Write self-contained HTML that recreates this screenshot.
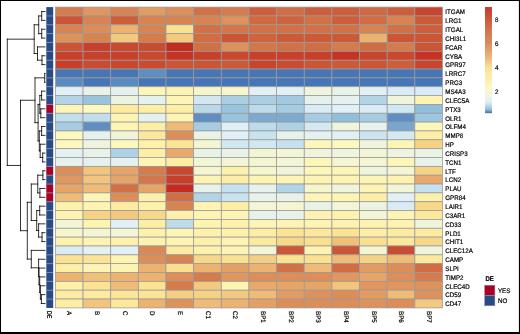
<!DOCTYPE html>
<html><head><meta charset="utf-8"><title>Heatmap</title>
<style>html,body{margin:0;padding:0;background:#fff}body{width:520px;height:334px;overflow:hidden}</style>
</head><body>
<svg width="520" height="334" viewBox="0 0 520 334" text-rendering="geometricPrecision" style="display:block;font-family:'Liberation Sans',sans-serif">
<rect x="0" y="0" width="520" height="334" fill="#fff"/>
<g stroke="#999999" stroke-width="0.75">
<rect x="55.40" y="7.10" width="27.65" height="8.85" fill="#d57b4c"/>
<rect x="83.05" y="7.10" width="27.65" height="8.85" fill="#e0965e"/>
<rect x="110.70" y="7.10" width="27.65" height="8.85" fill="#d88452"/>
<rect x="138.35" y="7.10" width="27.65" height="8.85" fill="#e29b61"/>
<rect x="166.00" y="7.10" width="27.65" height="8.85" fill="#dc8d58"/>
<rect x="193.65" y="7.10" width="27.65" height="8.85" fill="#d37146"/>
<rect x="221.30" y="7.10" width="27.65" height="8.85" fill="#d57b4c"/>
<rect x="248.95" y="7.10" width="27.65" height="8.85" fill="#ce5e3a"/>
<rect x="276.60" y="7.10" width="27.65" height="8.85" fill="#d26c43"/>
<rect x="304.25" y="7.10" width="27.65" height="8.85" fill="#ce5e3a"/>
<rect x="331.90" y="7.10" width="27.65" height="8.85" fill="#ce5e3a"/>
<rect x="359.55" y="7.10" width="27.65" height="8.85" fill="#d06840"/>
<rect x="387.20" y="7.10" width="27.65" height="8.85" fill="#ce5e3a"/>
<rect x="414.85" y="7.10" width="27.65" height="8.85" fill="#c9442c"/>
<rect x="55.40" y="15.95" width="27.65" height="8.85" fill="#cb5534"/>
<rect x="83.05" y="15.95" width="27.65" height="8.85" fill="#d88452"/>
<rect x="110.70" y="15.95" width="27.65" height="8.85" fill="#ce5e3a"/>
<rect x="138.35" y="15.95" width="27.65" height="8.85" fill="#d88452"/>
<rect x="166.00" y="15.95" width="27.65" height="8.85" fill="#d88452"/>
<rect x="193.65" y="15.95" width="27.65" height="8.85" fill="#d88452"/>
<rect x="221.30" y="15.95" width="27.65" height="8.85" fill="#de925b"/>
<rect x="248.95" y="15.95" width="27.65" height="8.85" fill="#d06840"/>
<rect x="276.60" y="15.95" width="27.65" height="8.85" fill="#cf633d"/>
<rect x="304.25" y="15.95" width="27.65" height="8.85" fill="#d37146"/>
<rect x="331.90" y="15.95" width="27.65" height="8.85" fill="#ce5e3a"/>
<rect x="359.55" y="15.95" width="27.65" height="8.85" fill="#d26c43"/>
<rect x="387.20" y="15.95" width="27.65" height="8.85" fill="#d88452"/>
<rect x="414.85" y="15.95" width="27.65" height="8.85" fill="#cc5a37"/>
<rect x="55.40" y="24.79" width="27.65" height="8.85" fill="#d88452"/>
<rect x="83.05" y="24.79" width="27.65" height="8.85" fill="#dc8d58"/>
<rect x="110.70" y="24.79" width="27.65" height="8.85" fill="#ecb270"/>
<rect x="138.35" y="24.79" width="27.65" height="8.85" fill="#d88452"/>
<rect x="166.00" y="24.79" width="27.65" height="8.85" fill="#fae190"/>
<rect x="193.65" y="24.79" width="27.65" height="8.85" fill="#d37146"/>
<rect x="221.30" y="24.79" width="27.65" height="8.85" fill="#d47649"/>
<rect x="248.95" y="24.79" width="27.65" height="8.85" fill="#d37146"/>
<rect x="276.60" y="24.79" width="27.65" height="8.85" fill="#d37146"/>
<rect x="304.25" y="24.79" width="27.65" height="8.85" fill="#d37146"/>
<rect x="331.90" y="24.79" width="27.65" height="8.85" fill="#d37146"/>
<rect x="359.55" y="24.79" width="27.65" height="8.85" fill="#d88452"/>
<rect x="387.20" y="24.79" width="27.65" height="8.85" fill="#d37146"/>
<rect x="414.85" y="24.79" width="27.65" height="8.85" fill="#ce5e3a"/>
<rect x="55.40" y="33.64" width="27.65" height="8.85" fill="#de925b"/>
<rect x="83.05" y="33.64" width="27.65" height="8.85" fill="#d88452"/>
<rect x="110.70" y="33.64" width="27.65" height="8.85" fill="#f3c97f"/>
<rect x="138.35" y="33.64" width="27.65" height="8.85" fill="#d57b4c"/>
<rect x="166.00" y="33.64" width="27.65" height="8.85" fill="#f3c97f"/>
<rect x="193.65" y="33.64" width="27.65" height="8.85" fill="#d26c43"/>
<rect x="221.30" y="33.64" width="27.65" height="8.85" fill="#cb5534"/>
<rect x="248.95" y="33.64" width="27.65" height="8.85" fill="#cf633d"/>
<rect x="276.60" y="33.64" width="27.65" height="8.85" fill="#cc5a37"/>
<rect x="304.25" y="33.64" width="27.65" height="8.85" fill="#cc5a37"/>
<rect x="331.90" y="33.64" width="27.65" height="8.85" fill="#cc5a37"/>
<rect x="359.55" y="33.64" width="27.65" height="8.85" fill="#ecb270"/>
<rect x="387.20" y="33.64" width="27.65" height="8.85" fill="#cb5534"/>
<rect x="414.85" y="33.64" width="27.65" height="8.85" fill="#cb5534"/>
<rect x="55.40" y="42.49" width="27.65" height="8.85" fill="#cb5534"/>
<rect x="83.05" y="42.49" width="27.65" height="8.85" fill="#c8402a"/>
<rect x="110.70" y="42.49" width="27.65" height="8.85" fill="#c9482e"/>
<rect x="138.35" y="42.49" width="27.65" height="8.85" fill="#ca4c30"/>
<rect x="166.00" y="42.49" width="27.65" height="8.85" fill="#c52a20"/>
<rect x="193.65" y="42.49" width="27.65" height="8.85" fill="#d37146"/>
<rect x="221.30" y="42.49" width="27.65" height="8.85" fill="#de925b"/>
<rect x="248.95" y="42.49" width="27.65" height="8.85" fill="#d47649"/>
<rect x="276.60" y="42.49" width="27.65" height="8.85" fill="#d37146"/>
<rect x="304.25" y="42.49" width="27.65" height="8.85" fill="#d26c43"/>
<rect x="331.90" y="42.49" width="27.65" height="8.85" fill="#d57b4c"/>
<rect x="359.55" y="42.49" width="27.65" height="8.85" fill="#d26c43"/>
<rect x="387.20" y="42.49" width="27.65" height="8.85" fill="#d57b4c"/>
<rect x="414.85" y="42.49" width="27.65" height="8.85" fill="#cb5534"/>
<rect x="55.40" y="51.34" width="27.65" height="8.85" fill="#c8402a"/>
<rect x="83.05" y="51.34" width="27.65" height="8.85" fill="#c8402a"/>
<rect x="110.70" y="51.34" width="27.65" height="8.85" fill="#c8402a"/>
<rect x="138.35" y="51.34" width="27.65" height="8.85" fill="#c9482e"/>
<rect x="166.00" y="51.34" width="27.65" height="8.85" fill="#c63324"/>
<rect x="193.65" y="51.34" width="27.65" height="8.85" fill="#c8402a"/>
<rect x="221.30" y="51.34" width="27.65" height="8.85" fill="#c9482e"/>
<rect x="248.95" y="51.34" width="27.65" height="8.85" fill="#c8402a"/>
<rect x="276.60" y="51.34" width="27.65" height="8.85" fill="#c8402a"/>
<rect x="304.25" y="51.34" width="27.65" height="8.85" fill="#c8402a"/>
<rect x="331.90" y="51.34" width="27.65" height="8.85" fill="#c63324"/>
<rect x="359.55" y="51.34" width="27.65" height="8.85" fill="#c9442c"/>
<rect x="387.20" y="51.34" width="27.65" height="8.85" fill="#c9482e"/>
<rect x="414.85" y="51.34" width="27.65" height="8.85" fill="#c63324"/>
<rect x="55.40" y="60.18" width="27.65" height="8.85" fill="#c8402a"/>
<rect x="83.05" y="60.18" width="27.65" height="8.85" fill="#ca4c30"/>
<rect x="110.70" y="60.18" width="27.65" height="8.85" fill="#c9482e"/>
<rect x="138.35" y="60.18" width="27.65" height="8.85" fill="#ca4c30"/>
<rect x="166.00" y="60.18" width="27.65" height="8.85" fill="#cb5534"/>
<rect x="193.65" y="60.18" width="27.65" height="8.85" fill="#cb5534"/>
<rect x="221.30" y="60.18" width="27.65" height="8.85" fill="#cc5a37"/>
<rect x="248.95" y="60.18" width="27.65" height="8.85" fill="#c9442c"/>
<rect x="276.60" y="60.18" width="27.65" height="8.85" fill="#ca4c30"/>
<rect x="304.25" y="60.18" width="27.65" height="8.85" fill="#cb5534"/>
<rect x="331.90" y="60.18" width="27.65" height="8.85" fill="#cc5a37"/>
<rect x="359.55" y="60.18" width="27.65" height="8.85" fill="#cb5534"/>
<rect x="387.20" y="60.18" width="27.65" height="8.85" fill="#ce5e3a"/>
<rect x="414.85" y="60.18" width="27.65" height="8.85" fill="#c9442c"/>
<rect x="55.40" y="69.03" width="27.65" height="8.85" fill="#4676b5"/>
<rect x="83.05" y="69.03" width="27.65" height="8.85" fill="#4676b5"/>
<rect x="110.70" y="69.03" width="27.65" height="8.85" fill="#4676b5"/>
<rect x="138.35" y="69.03" width="27.65" height="8.85" fill="#5f8ec2"/>
<rect x="166.00" y="69.03" width="27.65" height="8.85" fill="#4676b5"/>
<rect x="193.65" y="69.03" width="27.65" height="8.85" fill="#4676b5"/>
<rect x="221.30" y="69.03" width="27.65" height="8.85" fill="#4676b5"/>
<rect x="248.95" y="69.03" width="27.65" height="8.85" fill="#4676b5"/>
<rect x="276.60" y="69.03" width="27.65" height="8.85" fill="#4676b5"/>
<rect x="304.25" y="69.03" width="27.65" height="8.85" fill="#4676b5"/>
<rect x="331.90" y="69.03" width="27.65" height="8.85" fill="#4676b5"/>
<rect x="359.55" y="69.03" width="27.65" height="8.85" fill="#4676b5"/>
<rect x="387.20" y="69.03" width="27.65" height="8.85" fill="#4676b5"/>
<rect x="414.85" y="69.03" width="27.65" height="8.85" fill="#4676b5"/>
<rect x="55.40" y="77.88" width="27.65" height="8.85" fill="#5b8ac0"/>
<rect x="83.05" y="77.88" width="27.65" height="8.85" fill="#4676b5"/>
<rect x="110.70" y="77.88" width="27.65" height="8.85" fill="#5b8ac0"/>
<rect x="138.35" y="77.88" width="27.65" height="8.85" fill="#4676b5"/>
<rect x="166.00" y="77.88" width="27.65" height="8.85" fill="#4676b5"/>
<rect x="193.65" y="77.88" width="27.65" height="8.85" fill="#4676b5"/>
<rect x="221.30" y="77.88" width="27.65" height="8.85" fill="#4676b5"/>
<rect x="248.95" y="77.88" width="27.65" height="8.85" fill="#4676b5"/>
<rect x="276.60" y="77.88" width="27.65" height="8.85" fill="#4676b5"/>
<rect x="304.25" y="77.88" width="27.65" height="8.85" fill="#4676b5"/>
<rect x="331.90" y="77.88" width="27.65" height="8.85" fill="#4676b5"/>
<rect x="359.55" y="77.88" width="27.65" height="8.85" fill="#4676b5"/>
<rect x="387.20" y="77.88" width="27.65" height="8.85" fill="#4676b5"/>
<rect x="414.85" y="77.88" width="27.65" height="8.85" fill="#4676b5"/>
<rect x="55.40" y="86.72" width="27.65" height="8.85" fill="#e1f0f6"/>
<rect x="83.05" y="86.72" width="27.65" height="8.85" fill="#e9f2e6"/>
<rect x="110.70" y="86.72" width="27.65" height="8.85" fill="#e5f1ee"/>
<rect x="138.35" y="86.72" width="27.65" height="8.85" fill="#fdf6b9"/>
<rect x="166.00" y="86.72" width="27.65" height="8.85" fill="#fdf2af"/>
<rect x="193.65" y="86.72" width="27.65" height="8.85" fill="#f7f6ca"/>
<rect x="221.30" y="86.72" width="27.65" height="8.85" fill="#f7f6ca"/>
<rect x="248.95" y="86.72" width="27.65" height="8.85" fill="#e1f0f6"/>
<rect x="276.60" y="86.72" width="27.65" height="8.85" fill="#e1f0f6"/>
<rect x="304.25" y="86.72" width="27.65" height="8.85" fill="#eff4dc"/>
<rect x="331.90" y="86.72" width="27.65" height="8.85" fill="#e9f2e6"/>
<rect x="359.55" y="86.72" width="27.65" height="8.85" fill="#e1f0f6"/>
<rect x="387.20" y="86.72" width="27.65" height="8.85" fill="#d9ebf4"/>
<rect x="414.85" y="86.72" width="27.65" height="8.85" fill="#d9ebf4"/>
<rect x="55.40" y="95.57" width="27.65" height="8.85" fill="#b1d4e7"/>
<rect x="83.05" y="95.57" width="27.65" height="8.85" fill="#99c4de"/>
<rect x="110.70" y="95.57" width="27.65" height="8.85" fill="#ecf3e1"/>
<rect x="138.35" y="95.57" width="27.65" height="8.85" fill="#e4f1f1"/>
<rect x="166.00" y="95.57" width="27.65" height="8.85" fill="#fdf5b6"/>
<rect x="193.65" y="95.57" width="27.65" height="8.85" fill="#d1e7f1"/>
<rect x="221.30" y="95.57" width="27.65" height="8.85" fill="#a9cfe4"/>
<rect x="248.95" y="95.57" width="27.65" height="8.85" fill="#a9cfe4"/>
<rect x="276.60" y="95.57" width="27.65" height="8.85" fill="#a1c9e1"/>
<rect x="304.25" y="95.57" width="27.65" height="8.85" fill="#e5f1ee"/>
<rect x="331.90" y="95.57" width="27.65" height="8.85" fill="#e5f1ee"/>
<rect x="359.55" y="95.57" width="27.65" height="8.85" fill="#b1d4e7"/>
<rect x="387.20" y="95.57" width="27.65" height="8.85" fill="#eff4dc"/>
<rect x="414.85" y="95.57" width="27.65" height="8.85" fill="#fdf4b4"/>
<rect x="55.40" y="104.42" width="27.65" height="8.85" fill="#fdf5b6"/>
<rect x="83.05" y="104.42" width="27.65" height="8.85" fill="#fdf8be"/>
<rect x="110.70" y="104.42" width="27.65" height="8.85" fill="#fcea9e"/>
<rect x="138.35" y="104.42" width="27.65" height="8.85" fill="#fdeea5"/>
<rect x="166.00" y="104.42" width="27.65" height="8.85" fill="#fdeea5"/>
<rect x="193.65" y="104.42" width="27.65" height="8.85" fill="#b9d9ea"/>
<rect x="221.30" y="104.42" width="27.65" height="8.85" fill="#99c4de"/>
<rect x="248.95" y="104.42" width="27.65" height="8.85" fill="#bddbeb"/>
<rect x="276.60" y="104.42" width="27.65" height="8.85" fill="#a5cce2"/>
<rect x="304.25" y="104.42" width="27.65" height="8.85" fill="#d9ebf4"/>
<rect x="331.90" y="104.42" width="27.65" height="8.85" fill="#e1f0f6"/>
<rect x="359.55" y="104.42" width="27.65" height="8.85" fill="#d9ebf4"/>
<rect x="387.20" y="104.42" width="27.65" height="8.85" fill="#d1e7f1"/>
<rect x="414.85" y="104.42" width="27.65" height="8.85" fill="#91bfdb"/>
<rect x="55.40" y="113.26" width="27.65" height="8.85" fill="#c1deec"/>
<rect x="83.05" y="113.26" width="27.65" height="8.85" fill="#c1deec"/>
<rect x="110.70" y="113.26" width="27.65" height="8.85" fill="#fdf4b4"/>
<rect x="138.35" y="113.26" width="27.65" height="8.85" fill="#e4f1f1"/>
<rect x="166.00" y="113.26" width="27.65" height="8.85" fill="#fdf3b2"/>
<rect x="193.65" y="113.26" width="27.65" height="8.85" fill="#5f8ec2"/>
<rect x="221.30" y="113.26" width="27.65" height="8.85" fill="#99c4de"/>
<rect x="248.95" y="113.26" width="27.65" height="8.85" fill="#7caad0"/>
<rect x="276.60" y="113.26" width="27.65" height="8.85" fill="#7caad0"/>
<rect x="304.25" y="113.26" width="27.65" height="8.85" fill="#a5cce2"/>
<rect x="331.90" y="113.26" width="27.65" height="8.85" fill="#91bfdb"/>
<rect x="359.55" y="113.26" width="27.65" height="8.85" fill="#a5cce2"/>
<rect x="387.20" y="113.26" width="27.65" height="8.85" fill="#5f8ec2"/>
<rect x="414.85" y="113.26" width="27.65" height="8.85" fill="#9dc7e0"/>
<rect x="55.40" y="122.11" width="27.65" height="8.85" fill="#a5cce2"/>
<rect x="83.05" y="122.11" width="27.65" height="8.85" fill="#5f8ec2"/>
<rect x="110.70" y="122.11" width="27.65" height="8.85" fill="#fdf4b4"/>
<rect x="138.35" y="122.11" width="27.65" height="8.85" fill="#fdeea5"/>
<rect x="166.00" y="122.11" width="27.65" height="8.85" fill="#efbb76"/>
<rect x="193.65" y="122.11" width="27.65" height="8.85" fill="#a5cce2"/>
<rect x="221.30" y="122.11" width="27.65" height="8.85" fill="#e1f0f6"/>
<rect x="248.95" y="122.11" width="27.65" height="8.85" fill="#bddbeb"/>
<rect x="276.60" y="122.11" width="27.65" height="8.85" fill="#add1e6"/>
<rect x="304.25" y="122.11" width="27.65" height="8.85" fill="#d5e9f2"/>
<rect x="331.90" y="122.11" width="27.65" height="8.85" fill="#eff4dc"/>
<rect x="359.55" y="122.11" width="27.65" height="8.85" fill="#e7f2ec"/>
<rect x="387.20" y="122.11" width="27.65" height="8.85" fill="#78a6ce"/>
<rect x="414.85" y="122.11" width="27.65" height="8.85" fill="#fdf6b9"/>
<rect x="55.40" y="130.96" width="27.65" height="8.85" fill="#fdf8be"/>
<rect x="83.05" y="130.96" width="27.65" height="8.85" fill="#e5f1ee"/>
<rect x="110.70" y="130.96" width="27.65" height="8.85" fill="#f0f4d9"/>
<rect x="138.35" y="130.96" width="27.65" height="8.85" fill="#fce79a"/>
<rect x="166.00" y="130.96" width="27.65" height="8.85" fill="#dc8d58"/>
<rect x="193.65" y="130.96" width="27.65" height="8.85" fill="#ebf3e4"/>
<rect x="221.30" y="130.96" width="27.65" height="8.85" fill="#e1f0f6"/>
<rect x="248.95" y="130.96" width="27.65" height="8.85" fill="#c9e2ef"/>
<rect x="276.60" y="130.96" width="27.65" height="8.85" fill="#e7f2ec"/>
<rect x="304.25" y="130.96" width="27.65" height="8.85" fill="#e5f1ee"/>
<rect x="331.90" y="130.96" width="27.65" height="8.85" fill="#e2f0f3"/>
<rect x="359.55" y="130.96" width="27.65" height="8.85" fill="#cde4f0"/>
<rect x="387.20" y="130.96" width="27.65" height="8.85" fill="#d5e9f2"/>
<rect x="414.85" y="130.96" width="27.65" height="8.85" fill="#fdeea5"/>
<rect x="55.40" y="139.80" width="27.65" height="8.85" fill="#fdf8be"/>
<rect x="83.05" y="139.80" width="27.65" height="8.85" fill="#eef4df"/>
<rect x="110.70" y="139.80" width="27.65" height="8.85" fill="#fdf8be"/>
<rect x="138.35" y="139.80" width="27.65" height="8.85" fill="#fdf1ac"/>
<rect x="166.00" y="139.80" width="27.65" height="8.85" fill="#fbe495"/>
<rect x="193.65" y="139.80" width="27.65" height="8.85" fill="#f3f5d3"/>
<rect x="221.30" y="139.80" width="27.65" height="8.85" fill="#d1e7f1"/>
<rect x="248.95" y="139.80" width="27.65" height="8.85" fill="#d1e7f1"/>
<rect x="276.60" y="139.80" width="27.65" height="8.85" fill="#c5e0ee"/>
<rect x="304.25" y="139.80" width="27.65" height="8.85" fill="#fdf6b9"/>
<rect x="331.90" y="139.80" width="27.65" height="8.85" fill="#fdf8be"/>
<rect x="359.55" y="139.80" width="27.65" height="8.85" fill="#eff4dc"/>
<rect x="387.20" y="139.80" width="27.65" height="8.85" fill="#fdf5b6"/>
<rect x="414.85" y="139.80" width="27.65" height="8.85" fill="#f6d285"/>
<rect x="55.40" y="148.65" width="27.65" height="8.85" fill="#e4f1f1"/>
<rect x="83.05" y="148.65" width="27.65" height="8.85" fill="#e8f2e9"/>
<rect x="110.70" y="148.65" width="27.65" height="8.85" fill="#add1e6"/>
<rect x="138.35" y="148.65" width="27.65" height="8.85" fill="#fdeea5"/>
<rect x="166.00" y="148.65" width="27.65" height="8.85" fill="#e8a96a"/>
<rect x="193.65" y="148.65" width="27.65" height="8.85" fill="#e9f2e6"/>
<rect x="221.30" y="148.65" width="27.65" height="8.85" fill="#e9f2e6"/>
<rect x="248.95" y="148.65" width="27.65" height="8.85" fill="#f3f5d3"/>
<rect x="276.60" y="148.65" width="27.65" height="8.85" fill="#f2f5d6"/>
<rect x="304.25" y="148.65" width="27.65" height="8.85" fill="#eff4dc"/>
<rect x="331.90" y="148.65" width="27.65" height="8.85" fill="#eff4dc"/>
<rect x="359.55" y="148.65" width="27.65" height="8.85" fill="#f2f5d6"/>
<rect x="387.20" y="148.65" width="27.65" height="8.85" fill="#eef4df"/>
<rect x="414.85" y="148.65" width="27.65" height="8.85" fill="#ebf3e4"/>
<rect x="55.40" y="157.50" width="27.65" height="8.85" fill="#e7f2ec"/>
<rect x="83.05" y="157.50" width="27.65" height="8.85" fill="#e5f1ee"/>
<rect x="110.70" y="157.50" width="27.65" height="8.85" fill="#e5f1ee"/>
<rect x="138.35" y="157.50" width="27.65" height="8.85" fill="#fdf5b6"/>
<rect x="166.00" y="157.50" width="27.65" height="8.85" fill="#fdeea5"/>
<rect x="193.65" y="157.50" width="27.65" height="8.85" fill="#f2f5d6"/>
<rect x="221.30" y="157.50" width="27.65" height="8.85" fill="#f2f5d6"/>
<rect x="248.95" y="157.50" width="27.65" height="8.85" fill="#f3f5d3"/>
<rect x="276.60" y="157.50" width="27.65" height="8.85" fill="#f2f5d6"/>
<rect x="304.25" y="157.50" width="27.65" height="8.85" fill="#fdf6b9"/>
<rect x="331.90" y="157.50" width="27.65" height="8.85" fill="#f3f5d3"/>
<rect x="359.55" y="157.50" width="27.65" height="8.85" fill="#f3f5d3"/>
<rect x="387.20" y="157.50" width="27.65" height="8.85" fill="#fdf6b9"/>
<rect x="414.85" y="157.50" width="27.65" height="8.85" fill="#e8f2e9"/>
<rect x="55.40" y="166.35" width="27.65" height="8.85" fill="#dc8d58"/>
<rect x="83.05" y="166.35" width="27.65" height="8.85" fill="#f2c47c"/>
<rect x="110.70" y="166.35" width="27.65" height="8.85" fill="#e6a467"/>
<rect x="138.35" y="166.35" width="27.65" height="8.85" fill="#d57b4c"/>
<rect x="166.00" y="166.35" width="27.65" height="8.85" fill="#c9482e"/>
<rect x="193.65" y="166.35" width="27.65" height="8.85" fill="#f5f6d0"/>
<rect x="221.30" y="166.35" width="27.65" height="8.85" fill="#fdf0aa"/>
<rect x="248.95" y="166.35" width="27.65" height="8.85" fill="#f6f6cd"/>
<rect x="276.60" y="166.35" width="27.65" height="8.85" fill="#f0f4d9"/>
<rect x="304.25" y="166.35" width="27.65" height="8.85" fill="#fdf6b9"/>
<rect x="331.90" y="166.35" width="27.65" height="8.85" fill="#fdf5b6"/>
<rect x="359.55" y="166.35" width="27.65" height="8.85" fill="#eff4dc"/>
<rect x="387.20" y="166.35" width="27.65" height="8.85" fill="#f3f5d3"/>
<rect x="414.85" y="166.35" width="27.65" height="8.85" fill="#f6d285"/>
<rect x="55.40" y="175.19" width="27.65" height="8.85" fill="#e0965e"/>
<rect x="83.05" y="175.19" width="27.65" height="8.85" fill="#f2c47c"/>
<rect x="110.70" y="175.19" width="27.65" height="8.85" fill="#e6a467"/>
<rect x="138.35" y="175.19" width="27.65" height="8.85" fill="#d47649"/>
<rect x="166.00" y="175.19" width="27.65" height="8.85" fill="#c8402a"/>
<rect x="193.65" y="175.19" width="27.65" height="8.85" fill="#fdf3b2"/>
<rect x="221.30" y="175.19" width="27.65" height="8.85" fill="#fdeea5"/>
<rect x="248.95" y="175.19" width="27.65" height="8.85" fill="#fdf4b4"/>
<rect x="276.60" y="175.19" width="27.65" height="8.85" fill="#fdf5b6"/>
<rect x="304.25" y="175.19" width="27.65" height="8.85" fill="#fdf4b4"/>
<rect x="331.90" y="175.19" width="27.65" height="8.85" fill="#fdf3b2"/>
<rect x="359.55" y="175.19" width="27.65" height="8.85" fill="#fdf5b6"/>
<rect x="387.20" y="175.19" width="27.65" height="8.85" fill="#fdf2af"/>
<rect x="414.85" y="175.19" width="27.65" height="8.85" fill="#e8a96a"/>
<rect x="55.40" y="184.04" width="27.65" height="8.85" fill="#e6a467"/>
<rect x="83.05" y="184.04" width="27.65" height="8.85" fill="#efbb76"/>
<rect x="110.70" y="184.04" width="27.65" height="8.85" fill="#d37146"/>
<rect x="138.35" y="184.04" width="27.65" height="8.85" fill="#e6a467"/>
<rect x="166.00" y="184.04" width="27.65" height="8.85" fill="#c52a20"/>
<rect x="193.65" y="184.04" width="27.65" height="8.85" fill="#e8f2e9"/>
<rect x="221.30" y="184.04" width="27.65" height="8.85" fill="#c5e0ee"/>
<rect x="248.95" y="184.04" width="27.65" height="8.85" fill="#e7f2ec"/>
<rect x="276.60" y="184.04" width="27.65" height="8.85" fill="#b1d4e7"/>
<rect x="304.25" y="184.04" width="27.65" height="8.85" fill="#f6f6cd"/>
<rect x="331.90" y="184.04" width="27.65" height="8.85" fill="#eff4dc"/>
<rect x="359.55" y="184.04" width="27.65" height="8.85" fill="#fdf3b2"/>
<rect x="387.20" y="184.04" width="27.65" height="8.85" fill="#f2f5d6"/>
<rect x="414.85" y="184.04" width="27.65" height="8.85" fill="#c5e0ee"/>
<rect x="55.40" y="192.89" width="27.65" height="8.85" fill="#efbb76"/>
<rect x="83.05" y="192.89" width="27.65" height="8.85" fill="#fdf5b6"/>
<rect x="110.70" y="192.89" width="27.65" height="8.85" fill="#dc8d58"/>
<rect x="138.35" y="192.89" width="27.65" height="8.85" fill="#fdf0aa"/>
<rect x="166.00" y="192.89" width="27.65" height="8.85" fill="#d26c43"/>
<rect x="193.65" y="192.89" width="27.65" height="8.85" fill="#b1d4e7"/>
<rect x="221.30" y="192.89" width="27.65" height="8.85" fill="#c9e2ef"/>
<rect x="248.95" y="192.89" width="27.65" height="8.85" fill="#e8f2e9"/>
<rect x="276.60" y="192.89" width="27.65" height="8.85" fill="#e8f2e9"/>
<rect x="304.25" y="192.89" width="27.65" height="8.85" fill="#fdf5b6"/>
<rect x="331.90" y="192.89" width="27.65" height="8.85" fill="#fdf4b4"/>
<rect x="359.55" y="192.89" width="27.65" height="8.85" fill="#fdeea5"/>
<rect x="387.20" y="192.89" width="27.65" height="8.85" fill="#e1f0f6"/>
<rect x="414.85" y="192.89" width="27.65" height="8.85" fill="#fdf0aa"/>
<rect x="55.40" y="201.73" width="27.65" height="8.85" fill="#fdf1ac"/>
<rect x="83.05" y="201.73" width="27.65" height="8.85" fill="#fdf3b2"/>
<rect x="110.70" y="201.73" width="27.65" height="8.85" fill="#fceba0"/>
<rect x="138.35" y="201.73" width="27.65" height="8.85" fill="#fdf1ac"/>
<rect x="166.00" y="201.73" width="27.65" height="8.85" fill="#d88452"/>
<rect x="193.65" y="201.73" width="27.65" height="8.85" fill="#fdf4b4"/>
<rect x="221.30" y="201.73" width="27.65" height="8.85" fill="#fdeea5"/>
<rect x="248.95" y="201.73" width="27.65" height="8.85" fill="#f2f5d6"/>
<rect x="276.60" y="201.73" width="27.65" height="8.85" fill="#f3f5d3"/>
<rect x="304.25" y="201.73" width="27.65" height="8.85" fill="#e9f2e6"/>
<rect x="331.90" y="201.73" width="27.65" height="8.85" fill="#f2f5d6"/>
<rect x="359.55" y="201.73" width="27.65" height="8.85" fill="#ecf3e1"/>
<rect x="387.20" y="201.73" width="27.65" height="8.85" fill="#d9ebf4"/>
<rect x="414.85" y="201.73" width="27.65" height="8.85" fill="#f7d788"/>
<rect x="55.40" y="210.58" width="27.65" height="8.85" fill="#fdf2af"/>
<rect x="83.05" y="210.58" width="27.65" height="8.85" fill="#f6d285"/>
<rect x="110.70" y="210.58" width="27.65" height="8.85" fill="#f3c97f"/>
<rect x="138.35" y="210.58" width="27.65" height="8.85" fill="#f7d788"/>
<rect x="166.00" y="210.58" width="27.65" height="8.85" fill="#fdf0aa"/>
<rect x="193.65" y="210.58" width="27.65" height="8.85" fill="#fdf4b4"/>
<rect x="221.30" y="210.58" width="27.65" height="8.85" fill="#fdf4b4"/>
<rect x="248.95" y="210.58" width="27.65" height="8.85" fill="#e7f2ec"/>
<rect x="276.60" y="210.58" width="27.65" height="8.85" fill="#e8f2e9"/>
<rect x="304.25" y="210.58" width="27.65" height="8.85" fill="#fdf2af"/>
<rect x="331.90" y="210.58" width="27.65" height="8.85" fill="#fdf1ac"/>
<rect x="359.55" y="210.58" width="27.65" height="8.85" fill="#f2f5d6"/>
<rect x="387.20" y="210.58" width="27.65" height="8.85" fill="#fdf3b2"/>
<rect x="414.85" y="210.58" width="27.65" height="8.85" fill="#fce89c"/>
<rect x="55.40" y="219.43" width="27.65" height="8.85" fill="#f2f5d6"/>
<rect x="83.05" y="219.43" width="27.65" height="8.85" fill="#fdf4b4"/>
<rect x="110.70" y="219.43" width="27.65" height="8.85" fill="#e1f0f6"/>
<rect x="138.35" y="219.43" width="27.65" height="8.85" fill="#fdeea5"/>
<rect x="166.00" y="219.43" width="27.65" height="8.85" fill="#bddbeb"/>
<rect x="193.65" y="219.43" width="27.65" height="8.85" fill="#fdf3b2"/>
<rect x="221.30" y="219.43" width="27.65" height="8.85" fill="#fdf1ac"/>
<rect x="248.95" y="219.43" width="27.65" height="8.85" fill="#fdf5b6"/>
<rect x="276.60" y="219.43" width="27.65" height="8.85" fill="#fdf3b2"/>
<rect x="304.25" y="219.43" width="27.65" height="8.85" fill="#fdf3b2"/>
<rect x="331.90" y="219.43" width="27.65" height="8.85" fill="#fdf2af"/>
<rect x="359.55" y="219.43" width="27.65" height="8.85" fill="#fdf2af"/>
<rect x="387.20" y="219.43" width="27.65" height="8.85" fill="#fdf2af"/>
<rect x="414.85" y="219.43" width="27.65" height="8.85" fill="#eff4dc"/>
<rect x="55.40" y="228.27" width="27.65" height="8.85" fill="#f6f6cd"/>
<rect x="83.05" y="228.27" width="27.65" height="8.85" fill="#f3f5d3"/>
<rect x="110.70" y="228.27" width="27.65" height="8.85" fill="#f2f5d6"/>
<rect x="138.35" y="228.27" width="27.65" height="8.85" fill="#fdf1ac"/>
<rect x="166.00" y="228.27" width="27.65" height="8.85" fill="#fdf5b6"/>
<rect x="193.65" y="228.27" width="27.65" height="8.85" fill="#fdf1ac"/>
<rect x="221.30" y="228.27" width="27.65" height="8.85" fill="#fdf1ac"/>
<rect x="248.95" y="228.27" width="27.65" height="8.85" fill="#fdeea5"/>
<rect x="276.60" y="228.27" width="27.65" height="8.85" fill="#fbe393"/>
<rect x="304.25" y="228.27" width="27.65" height="8.85" fill="#fce79a"/>
<rect x="331.90" y="228.27" width="27.65" height="8.85" fill="#fbe393"/>
<rect x="359.55" y="228.27" width="27.65" height="8.85" fill="#fdeea5"/>
<rect x="387.20" y="228.27" width="27.65" height="8.85" fill="#fceba0"/>
<rect x="414.85" y="228.27" width="27.65" height="8.85" fill="#fceba0"/>
<rect x="55.40" y="237.12" width="27.65" height="8.85" fill="#fdf0aa"/>
<rect x="83.05" y="237.12" width="27.65" height="8.85" fill="#fdf4b4"/>
<rect x="110.70" y="237.12" width="27.65" height="8.85" fill="#fdf0aa"/>
<rect x="138.35" y="237.12" width="27.65" height="8.85" fill="#fdf2af"/>
<rect x="166.00" y="237.12" width="27.65" height="8.85" fill="#fdf3b2"/>
<rect x="193.65" y="237.12" width="27.65" height="8.85" fill="#fdf0aa"/>
<rect x="221.30" y="237.12" width="27.65" height="8.85" fill="#fdf2af"/>
<rect x="248.95" y="237.12" width="27.65" height="8.85" fill="#fcea9e"/>
<rect x="276.60" y="237.12" width="27.65" height="8.85" fill="#f7d788"/>
<rect x="304.25" y="237.12" width="27.65" height="8.85" fill="#fae08e"/>
<rect x="331.90" y="237.12" width="27.65" height="8.85" fill="#f0c079"/>
<rect x="359.55" y="237.12" width="27.65" height="8.85" fill="#fae08e"/>
<rect x="387.20" y="237.12" width="27.65" height="8.85" fill="#fce79a"/>
<rect x="414.85" y="237.12" width="27.65" height="8.85" fill="#f7d788"/>
<rect x="55.40" y="245.97" width="27.65" height="8.85" fill="#d9ebf4"/>
<rect x="83.05" y="245.97" width="27.65" height="8.85" fill="#e4f1f1"/>
<rect x="110.70" y="245.97" width="27.65" height="8.85" fill="#e1f0f6"/>
<rect x="138.35" y="245.97" width="27.65" height="8.85" fill="#da8955"/>
<rect x="166.00" y="245.97" width="27.65" height="8.85" fill="#fceba0"/>
<rect x="193.65" y="245.97" width="27.65" height="8.85" fill="#fdf1ac"/>
<rect x="221.30" y="245.97" width="27.65" height="8.85" fill="#fdf3b2"/>
<rect x="248.95" y="245.97" width="27.65" height="8.85" fill="#f2f5d6"/>
<rect x="276.60" y="245.97" width="27.65" height="8.85" fill="#cb5534"/>
<rect x="304.25" y="245.97" width="27.65" height="8.85" fill="#fdf2af"/>
<rect x="331.90" y="245.97" width="27.65" height="8.85" fill="#cb5534"/>
<rect x="359.55" y="245.97" width="27.65" height="8.85" fill="#f3f5d3"/>
<rect x="387.20" y="245.97" width="27.65" height="8.85" fill="#ca4c30"/>
<rect x="414.85" y="245.97" width="27.65" height="8.85" fill="#eff4dc"/>
<rect x="55.40" y="254.82" width="27.65" height="8.85" fill="#fbe393"/>
<rect x="83.05" y="254.82" width="27.65" height="8.85" fill="#fbe495"/>
<rect x="110.70" y="254.82" width="27.65" height="8.85" fill="#fdf3b2"/>
<rect x="138.35" y="254.82" width="27.65" height="8.85" fill="#dc8d58"/>
<rect x="166.00" y="254.82" width="27.65" height="8.85" fill="#d88452"/>
<rect x="193.65" y="254.82" width="27.65" height="8.85" fill="#f7d788"/>
<rect x="221.30" y="254.82" width="27.65" height="8.85" fill="#fae190"/>
<rect x="248.95" y="254.82" width="27.65" height="8.85" fill="#f4ce82"/>
<rect x="276.60" y="254.82" width="27.65" height="8.85" fill="#fae190"/>
<rect x="304.25" y="254.82" width="27.65" height="8.85" fill="#fae190"/>
<rect x="331.90" y="254.82" width="27.65" height="8.85" fill="#efbb76"/>
<rect x="359.55" y="254.82" width="27.65" height="8.85" fill="#f6d285"/>
<rect x="387.20" y="254.82" width="27.65" height="8.85" fill="#efbb76"/>
<rect x="414.85" y="254.82" width="27.65" height="8.85" fill="#fce79a"/>
<rect x="55.40" y="263.66" width="27.65" height="8.85" fill="#fdeea5"/>
<rect x="83.05" y="263.66" width="27.65" height="8.85" fill="#fdf3b2"/>
<rect x="110.70" y="263.66" width="27.65" height="8.85" fill="#fdf4b4"/>
<rect x="138.35" y="263.66" width="27.65" height="8.85" fill="#ecb270"/>
<rect x="166.00" y="263.66" width="27.65" height="8.85" fill="#fae08e"/>
<rect x="193.65" y="263.66" width="27.65" height="8.85" fill="#ecb270"/>
<rect x="221.30" y="263.66" width="27.65" height="8.85" fill="#e4a064"/>
<rect x="248.95" y="263.66" width="27.65" height="8.85" fill="#ecb270"/>
<rect x="276.60" y="263.66" width="27.65" height="8.85" fill="#d37146"/>
<rect x="304.25" y="263.66" width="27.65" height="8.85" fill="#efbb76"/>
<rect x="331.90" y="263.66" width="27.65" height="8.85" fill="#d26c43"/>
<rect x="359.55" y="263.66" width="27.65" height="8.85" fill="#e29b61"/>
<rect x="387.20" y="263.66" width="27.65" height="8.85" fill="#dc8d58"/>
<rect x="414.85" y="263.66" width="27.65" height="8.85" fill="#d26c43"/>
<rect x="55.40" y="272.51" width="27.65" height="8.85" fill="#ecb270"/>
<rect x="83.05" y="272.51" width="27.65" height="8.85" fill="#f0c079"/>
<rect x="110.70" y="272.51" width="27.65" height="8.85" fill="#ecb270"/>
<rect x="138.35" y="272.51" width="27.65" height="8.85" fill="#ecb270"/>
<rect x="166.00" y="272.51" width="27.65" height="8.85" fill="#dc8d58"/>
<rect x="193.65" y="272.51" width="27.65" height="8.85" fill="#d57b4c"/>
<rect x="221.30" y="272.51" width="27.65" height="8.85" fill="#e0965e"/>
<rect x="248.95" y="272.51" width="27.65" height="8.85" fill="#dc8d58"/>
<rect x="276.60" y="272.51" width="27.65" height="8.85" fill="#dc8d58"/>
<rect x="304.25" y="272.51" width="27.65" height="8.85" fill="#dc8d58"/>
<rect x="331.90" y="272.51" width="27.65" height="8.85" fill="#e0965e"/>
<rect x="359.55" y="272.51" width="27.65" height="8.85" fill="#e6a467"/>
<rect x="387.20" y="272.51" width="27.65" height="8.85" fill="#dc8d58"/>
<rect x="414.85" y="272.51" width="27.65" height="8.85" fill="#d57b4c"/>
<rect x="55.40" y="281.36" width="27.65" height="8.85" fill="#fdf0aa"/>
<rect x="83.05" y="281.36" width="27.65" height="8.85" fill="#fbe393"/>
<rect x="110.70" y="281.36" width="27.65" height="8.85" fill="#efbb76"/>
<rect x="138.35" y="281.36" width="27.65" height="8.85" fill="#fbe393"/>
<rect x="166.00" y="281.36" width="27.65" height="8.85" fill="#d57b4c"/>
<rect x="193.65" y="281.36" width="27.65" height="8.85" fill="#f3c97f"/>
<rect x="221.30" y="281.36" width="27.65" height="8.85" fill="#fdf4b4"/>
<rect x="248.95" y="281.36" width="27.65" height="8.85" fill="#e8a96a"/>
<rect x="276.60" y="281.36" width="27.65" height="8.85" fill="#e6a467"/>
<rect x="304.25" y="281.36" width="27.65" height="8.85" fill="#e6a467"/>
<rect x="331.90" y="281.36" width="27.65" height="8.85" fill="#f2c47c"/>
<rect x="359.55" y="281.36" width="27.65" height="8.85" fill="#e0965e"/>
<rect x="387.20" y="281.36" width="27.65" height="8.85" fill="#e0965e"/>
<rect x="414.85" y="281.36" width="27.65" height="8.85" fill="#de925b"/>
<rect x="55.40" y="290.20" width="27.65" height="8.85" fill="#fceba0"/>
<rect x="83.05" y="290.20" width="27.65" height="8.85" fill="#fceba0"/>
<rect x="110.70" y="290.20" width="27.65" height="8.85" fill="#fbe697"/>
<rect x="138.35" y="290.20" width="27.65" height="8.85" fill="#fbe495"/>
<rect x="166.00" y="290.20" width="27.65" height="8.85" fill="#f4ce82"/>
<rect x="193.65" y="290.20" width="27.65" height="8.85" fill="#f6d285"/>
<rect x="221.30" y="290.20" width="27.65" height="8.85" fill="#f3c97f"/>
<rect x="248.95" y="290.20" width="27.65" height="8.85" fill="#efbb76"/>
<rect x="276.60" y="290.20" width="27.65" height="8.85" fill="#e29b61"/>
<rect x="304.25" y="290.20" width="27.65" height="8.85" fill="#de925b"/>
<rect x="331.90" y="290.20" width="27.65" height="8.85" fill="#dc8d58"/>
<rect x="359.55" y="290.20" width="27.65" height="8.85" fill="#e29b61"/>
<rect x="387.20" y="290.20" width="27.65" height="8.85" fill="#efbb76"/>
<rect x="414.85" y="290.20" width="27.65" height="8.85" fill="#de925b"/>
<rect x="55.40" y="299.05" width="27.65" height="8.85" fill="#fdeea5"/>
<rect x="83.05" y="299.05" width="27.65" height="8.85" fill="#f2c47c"/>
<rect x="110.70" y="299.05" width="27.65" height="8.85" fill="#fce79a"/>
<rect x="138.35" y="299.05" width="27.65" height="8.85" fill="#ecb270"/>
<rect x="166.00" y="299.05" width="27.65" height="8.85" fill="#de925b"/>
<rect x="193.65" y="299.05" width="27.65" height="8.85" fill="#efbb76"/>
<rect x="221.30" y="299.05" width="27.65" height="8.85" fill="#ecb270"/>
<rect x="248.95" y="299.05" width="27.65" height="8.85" fill="#e4a064"/>
<rect x="276.60" y="299.05" width="27.65" height="8.85" fill="#dc8d58"/>
<rect x="304.25" y="299.05" width="27.65" height="8.85" fill="#dc8d58"/>
<rect x="331.90" y="299.05" width="27.65" height="8.85" fill="#dc8d58"/>
<rect x="359.55" y="299.05" width="27.65" height="8.85" fill="#de925b"/>
<rect x="387.20" y="299.05" width="27.65" height="8.85" fill="#dc8d58"/>
<rect x="414.85" y="299.05" width="27.65" height="8.85" fill="#f3c97f"/>
</g>
<g>
<rect x="46.30" y="7.10" width="6.90" height="8.90" fill="#284b87"/>
<rect x="46.30" y="15.95" width="6.90" height="8.90" fill="#284b87"/>
<rect x="46.30" y="24.79" width="6.90" height="8.90" fill="#284b87"/>
<rect x="46.30" y="33.64" width="6.90" height="8.90" fill="#284b87"/>
<rect x="46.30" y="42.49" width="6.90" height="8.90" fill="#284b87"/>
<rect x="46.30" y="51.34" width="6.90" height="8.90" fill="#284b87"/>
<rect x="46.30" y="60.18" width="6.90" height="8.90" fill="#284b87"/>
<rect x="46.30" y="69.03" width="6.90" height="8.90" fill="#284b87"/>
<rect x="46.30" y="77.88" width="6.90" height="8.90" fill="#284b87"/>
<rect x="46.30" y="86.72" width="6.90" height="8.90" fill="#284b87"/>
<rect x="46.30" y="95.57" width="6.90" height="8.90" fill="#284b87"/>
<rect x="46.30" y="104.42" width="6.90" height="8.90" fill="#aa0028"/>
<rect x="46.30" y="113.26" width="6.90" height="8.90" fill="#284b87"/>
<rect x="46.30" y="122.11" width="6.90" height="8.90" fill="#284b87"/>
<rect x="46.30" y="130.96" width="6.90" height="8.90" fill="#284b87"/>
<rect x="46.30" y="139.80" width="6.90" height="8.90" fill="#284b87"/>
<rect x="46.30" y="148.65" width="6.90" height="8.90" fill="#284b87"/>
<rect x="46.30" y="157.50" width="6.90" height="8.90" fill="#284b87"/>
<rect x="46.30" y="166.35" width="6.90" height="8.90" fill="#aa0028"/>
<rect x="46.30" y="175.19" width="6.90" height="8.90" fill="#284b87"/>
<rect x="46.30" y="184.04" width="6.90" height="8.90" fill="#aa0028"/>
<rect x="46.30" y="192.89" width="6.90" height="8.90" fill="#aa0028"/>
<rect x="46.30" y="201.73" width="6.90" height="8.90" fill="#284b87"/>
<rect x="46.30" y="210.58" width="6.90" height="8.90" fill="#284b87"/>
<rect x="46.30" y="219.43" width="6.90" height="8.90" fill="#284b87"/>
<rect x="46.30" y="228.27" width="6.90" height="8.90" fill="#284b87"/>
<rect x="46.30" y="237.12" width="6.90" height="8.90" fill="#284b87"/>
<rect x="46.30" y="245.97" width="6.90" height="8.90" fill="#284b87"/>
<rect x="46.30" y="254.82" width="6.90" height="8.90" fill="#284b87"/>
<rect x="46.30" y="263.66" width="6.90" height="8.90" fill="#284b87"/>
<rect x="46.30" y="272.51" width="6.90" height="8.90" fill="#284b87"/>
<rect x="46.30" y="281.36" width="6.90" height="8.90" fill="#284b87"/>
<rect x="46.30" y="290.20" width="6.90" height="8.90" fill="#284b87"/>
<rect x="46.30" y="299.05" width="6.90" height="8.90" fill="#284b87"/>
</g>
<path d="M46.30 15.95H53.20M46.30 24.79H53.20M46.30 33.64H53.20M46.30 42.49H53.20M46.30 51.34H53.20M46.30 60.18H53.20M46.30 69.03H53.20M46.30 77.88H53.20M46.30 86.72H53.20M46.30 95.57H53.20M46.30 104.42H53.20M46.30 113.26H53.20M46.30 122.11H53.20M46.30 130.96H53.20M46.30 139.80H53.20M46.30 148.65H53.20M46.30 157.50H53.20M46.30 166.35H53.20M46.30 175.19H53.20M46.30 184.04H53.20M46.30 192.89H53.20M46.30 201.73H53.20M46.30 210.58H53.20M46.30 219.43H53.20M46.30 228.27H53.20M46.30 237.12H53.20M46.30 245.97H53.20M46.30 254.82H53.20M46.30 263.66H53.20M46.30 272.51H53.20M46.30 281.36H53.20M46.30 290.20H53.20M46.30 299.05H53.20" stroke="#8a94a8" stroke-width="0.8" fill="none"/>
<path d="M41.70 11.52L45.00 11.52M41.70 20.37L45.00 20.37M41.70 11.52L41.70 20.37M41.70 29.22L45.00 29.22M41.70 38.06L45.00 38.06M41.70 29.22L41.70 38.06M38.70 15.95L41.70 15.95M38.70 33.64L41.70 33.64M38.70 15.95L38.70 33.64M42.00 55.76L45.00 55.76M42.00 64.61L45.00 64.61M42.00 55.76L42.00 64.61M37.50 46.91L45.00 46.91M37.50 60.18L42.00 60.18M37.50 46.91L37.50 60.18M34.20 24.79L38.70 24.79M34.20 53.55L37.50 53.55M34.20 24.79L34.20 53.55M44.70 73.45L45.00 73.45M44.70 82.30L45.00 82.30M44.70 73.45L44.70 82.30M41.60 91.15L45.00 91.15M41.60 99.99L45.00 99.99M41.60 91.15L41.60 99.99M40.80 108.84L45.00 108.84M40.80 117.69L45.00 117.69M40.80 108.84L40.80 117.69M39.80 95.57L41.60 95.57M39.80 113.26L40.80 113.26M39.80 95.57L39.80 113.26M41.60 126.53L45.00 126.53M41.60 135.38L45.00 135.38M41.60 126.53L41.60 135.38M42.70 153.08L45.00 153.08M42.70 161.92L45.00 161.92M42.70 153.08L42.70 161.92M40.20 144.23L45.00 144.23M40.20 157.50L42.70 157.50M40.20 144.23L40.20 157.50M39.30 130.96L41.60 130.96M39.30 150.86L40.20 150.86M39.30 130.96L39.30 150.86M38.10 104.42L39.80 104.42M38.10 140.91L39.30 140.91M38.10 104.42L38.10 140.91M35.00 77.88L44.70 77.88M35.00 122.66L38.10 122.66M35.00 77.88L35.00 122.66M42.90 170.77L45.00 170.77M42.90 179.62L45.00 179.62M42.90 170.77L42.90 179.62M39.90 188.46L45.00 188.46M39.90 197.31L45.00 197.31M39.90 188.46L39.90 197.31M37.75 175.19L42.90 175.19M37.75 192.89L39.90 192.89M37.75 175.19L37.75 192.89M39.70 206.16L45.00 206.16M39.70 215.00L45.00 215.00M39.70 206.16L39.70 215.00M42.06 232.70L45.00 232.70M42.06 241.55L45.00 241.55M42.06 232.70L42.06 241.55M38.60 223.85L45.00 223.85M38.60 237.12L42.06 237.12M38.60 223.85L38.60 237.12M36.70 210.58L39.70 210.58M36.70 230.49L38.60 230.49M36.70 210.58L36.70 230.49M31.30 184.04L37.75 184.04M31.30 220.53L36.70 220.53M31.30 184.04L31.30 220.53M41.40 294.63L45.00 294.63M41.40 303.47L45.00 303.47M41.40 294.63L41.40 303.47M40.40 285.78L45.00 285.78M40.40 299.05L41.40 299.05M40.40 285.78L40.40 299.05M39.70 276.93L45.00 276.93M39.70 292.42L40.40 292.42M39.70 276.93L39.70 292.42M39.00 268.09L45.00 268.09M39.00 284.67L39.70 284.67M39.00 268.09L39.00 284.67M38.60 259.24L45.00 259.24M38.60 276.38L39.00 276.38M38.60 259.24L38.60 276.38M31.30 250.39L45.00 250.39M31.30 267.81L38.60 267.81M31.30 250.39L31.30 267.81M27.30 202.29L31.30 202.29M27.30 259.10L31.30 259.10M27.30 202.29L27.30 259.10M20.50 100.27L35.00 100.27M20.50 230.69L27.30 230.69M20.50 100.27L20.50 230.69M7.30 39.17L34.20 39.17M7.30 165.48L20.50 165.48M7.30 39.17L7.30 165.48" fill="none" stroke="#000" stroke-width="0.8" stroke-linecap="square"/>
<g font-size="6.6" fill="#000" stroke="#000" stroke-width="0.2">
<text transform="translate(445.30,14.39) scale(0.94,1)">ITGAM</text>
<text transform="translate(445.30,23.23) scale(0.94,1)">LRG1</text>
<text transform="translate(445.30,32.08) scale(0.94,1)">ITGAL</text>
<text transform="translate(445.30,40.93) scale(0.94,1)">CHI3L1</text>
<text transform="translate(445.30,49.77) scale(0.94,1)">FCAR</text>
<text transform="translate(445.30,58.62) scale(0.94,1)">CYBA</text>
<text transform="translate(445.30,67.47) scale(0.94,1)">GPR97</text>
<text transform="translate(445.30,76.32) scale(0.94,1)">LRRC7</text>
<text transform="translate(445.30,85.16) scale(0.94,1)">PRG3</text>
<text transform="translate(445.30,94.01) scale(0.94,1)">MS4A3</text>
<text transform="translate(445.30,102.86) scale(0.94,1)">CLEC5A</text>
<text transform="translate(445.30,111.70) scale(0.94,1)">PTX3</text>
<text transform="translate(445.30,120.55) scale(0.94,1)">OLR1</text>
<text transform="translate(445.30,129.40) scale(0.94,1)">OLFM4</text>
<text transform="translate(445.30,138.24) scale(0.94,1)">MMP8</text>
<text transform="translate(445.30,147.09) scale(0.94,1)">HP</text>
<text transform="translate(445.30,155.94) scale(0.94,1)">CRISP3</text>
<text transform="translate(445.30,164.79) scale(0.94,1)">TCN1</text>
<text transform="translate(445.30,173.63) scale(0.94,1)">LTF</text>
<text transform="translate(445.30,182.48) scale(0.94,1)">LCN2</text>
<text transform="translate(445.30,191.33) scale(0.94,1)">PLAU</text>
<text transform="translate(445.30,200.17) scale(0.94,1)">GPR84</text>
<text transform="translate(445.30,209.02) scale(0.94,1)">LAIR1</text>
<text transform="translate(445.30,217.87) scale(0.94,1)">C3AR1</text>
<text transform="translate(445.30,226.71) scale(0.94,1)">CD33</text>
<text transform="translate(445.30,235.56) scale(0.94,1)">PLD1</text>
<text transform="translate(445.30,244.41) scale(0.94,1)">CHIT1</text>
<text transform="translate(445.30,253.26) scale(0.94,1)">CLEC12A</text>
<text transform="translate(445.30,262.10) scale(0.94,1)">CAMP</text>
<text transform="translate(445.30,270.95) scale(0.94,1)">SLPI</text>
<text transform="translate(445.30,279.80) scale(0.94,1)">TIMP2</text>
<text transform="translate(445.30,288.64) scale(0.94,1)">CLEC4D</text>
<text transform="translate(445.30,297.49) scale(0.94,1)">CD59</text>
<text transform="translate(445.30,306.34) scale(0.94,1)">CD47</text>
<text transform="translate(67.36,311.10) rotate(90) scale(0.94,1)">A</text>
<text transform="translate(95.01,311.10) rotate(90) scale(0.94,1)">B</text>
<text transform="translate(122.66,311.10) rotate(90) scale(0.94,1)">C</text>
<text transform="translate(150.31,311.10) rotate(90) scale(0.94,1)">D</text>
<text transform="translate(177.96,311.10) rotate(90) scale(0.94,1)">E</text>
<text transform="translate(205.61,311.10) rotate(90) scale(0.94,1)">C1</text>
<text transform="translate(233.26,311.10) rotate(90) scale(0.94,1)">C2</text>
<text transform="translate(260.91,311.10) rotate(90) scale(0.94,1)">BP1</text>
<text transform="translate(288.56,311.10) rotate(90) scale(0.94,1)">BP2</text>
<text transform="translate(316.21,311.10) rotate(90) scale(0.94,1)">BP3</text>
<text transform="translate(343.86,311.10) rotate(90) scale(0.94,1)">BP4</text>
<text transform="translate(371.51,311.10) rotate(90) scale(0.94,1)">BP5</text>
<text transform="translate(399.16,311.10) rotate(90) scale(0.94,1)">BP6</text>
<text transform="translate(426.81,311.10) rotate(90) scale(0.94,1)">BP7</text>
<g stroke="none">
<text transform="translate(46.99,310.70) rotate(90) scale(0.82,1)" font-weight="bold" font-size="7">DE</text>
</g>
<text transform="translate(495.10,21.61) scale(0.94,1)">8</text>
<text transform="translate(495.10,45.51) scale(0.94,1)">6</text>
<text transform="translate(495.10,70.36) scale(0.94,1)">4</text>
<text transform="translate(495.10,94.11) scale(0.94,1)">2</text>
<text transform="translate(485.50,281.00) scale(0.86,1)" font-weight="bold" font-size="7">DE</text>
<text transform="translate(497.90,292.56) scale(0.94,1)">YES</text>
<text transform="translate(497.90,303.36) scale(0.94,1)">NO</text>
</g>
<g>
<rect x="485.00" y="7.00" width="6.90" height="0.80" fill="#c52a20"/>
<rect x="485.00" y="7.50" width="6.90" height="0.80" fill="#c52c21"/>
<rect x="485.00" y="8.00" width="6.90" height="0.80" fill="#c52d22"/>
<rect x="485.00" y="8.50" width="6.90" height="0.80" fill="#c62f22"/>
<rect x="485.00" y="9.00" width="6.90" height="0.80" fill="#c63023"/>
<rect x="485.00" y="9.50" width="6.90" height="0.80" fill="#c63224"/>
<rect x="485.00" y="10.00" width="6.90" height="0.80" fill="#c63324"/>
<rect x="485.00" y="10.50" width="6.90" height="0.80" fill="#c63425"/>
<rect x="485.00" y="11.00" width="6.90" height="0.80" fill="#c73625"/>
<rect x="485.00" y="11.50" width="6.90" height="0.80" fill="#c73726"/>
<rect x="485.00" y="12.00" width="6.90" height="0.80" fill="#c73927"/>
<rect x="485.00" y="12.49" width="6.90" height="0.80" fill="#c73a27"/>
<rect x="485.00" y="12.99" width="6.90" height="0.80" fill="#c73b28"/>
<rect x="485.00" y="13.49" width="6.90" height="0.80" fill="#c83d29"/>
<rect x="485.00" y="13.99" width="6.90" height="0.80" fill="#c83e29"/>
<rect x="485.00" y="14.49" width="6.90" height="0.80" fill="#c8402a"/>
<rect x="485.00" y="14.99" width="6.90" height="0.80" fill="#c8412b"/>
<rect x="485.00" y="15.49" width="6.90" height="0.80" fill="#c8432b"/>
<rect x="485.00" y="15.99" width="6.90" height="0.80" fill="#c9442c"/>
<rect x="485.00" y="16.49" width="6.90" height="0.80" fill="#c9452d"/>
<rect x="485.00" y="16.99" width="6.90" height="0.80" fill="#c9472d"/>
<rect x="485.00" y="17.49" width="6.90" height="0.80" fill="#c9482e"/>
<rect x="485.00" y="17.99" width="6.90" height="0.80" fill="#c94a2f"/>
<rect x="485.00" y="18.49" width="6.90" height="0.80" fill="#ca4b2f"/>
<rect x="485.00" y="18.99" width="6.90" height="0.80" fill="#ca4c30"/>
<rect x="485.00" y="19.49" width="6.90" height="0.80" fill="#ca4e31"/>
<rect x="485.00" y="19.99" width="6.90" height="0.80" fill="#ca4f31"/>
<rect x="485.00" y="20.49" width="6.90" height="0.80" fill="#ca5032"/>
<rect x="485.00" y="20.99" width="6.90" height="0.80" fill="#cb5232"/>
<rect x="485.00" y="21.49" width="6.90" height="0.80" fill="#cb5333"/>
<rect x="485.00" y="21.99" width="6.90" height="0.80" fill="#cb5434"/>
<rect x="485.00" y="22.49" width="6.90" height="0.80" fill="#cb5634"/>
<rect x="485.00" y="22.98" width="6.90" height="0.80" fill="#cc5735"/>
<rect x="485.00" y="23.48" width="6.90" height="0.80" fill="#cc5836"/>
<rect x="485.00" y="23.98" width="6.90" height="0.80" fill="#cc5a37"/>
<rect x="485.00" y="24.48" width="6.90" height="0.80" fill="#cd5b38"/>
<rect x="485.00" y="24.98" width="6.90" height="0.80" fill="#cd5d39"/>
<rect x="485.00" y="25.48" width="6.90" height="0.80" fill="#cd5e3a"/>
<rect x="485.00" y="25.98" width="6.90" height="0.80" fill="#ce5f3b"/>
<rect x="485.00" y="26.48" width="6.90" height="0.80" fill="#ce613c"/>
<rect x="485.00" y="26.98" width="6.90" height="0.80" fill="#cf623c"/>
<rect x="485.00" y="27.48" width="6.90" height="0.80" fill="#cf643d"/>
<rect x="485.00" y="27.98" width="6.90" height="0.80" fill="#cf653e"/>
<rect x="485.00" y="28.48" width="6.90" height="0.80" fill="#d0663f"/>
<rect x="485.00" y="28.98" width="6.90" height="0.80" fill="#d06840"/>
<rect x="485.00" y="29.48" width="6.90" height="0.80" fill="#d06941"/>
<rect x="485.00" y="29.98" width="6.90" height="0.80" fill="#d16a41"/>
<rect x="485.00" y="30.48" width="6.90" height="0.80" fill="#d16b42"/>
<rect x="485.00" y="30.98" width="6.90" height="0.80" fill="#d16c42"/>
<rect x="485.00" y="31.48" width="6.90" height="0.80" fill="#d26d43"/>
<rect x="485.00" y="31.98" width="6.90" height="0.80" fill="#d26e44"/>
<rect x="485.00" y="32.48" width="6.90" height="0.80" fill="#d26f44"/>
<rect x="485.00" y="32.98" width="6.90" height="0.80" fill="#d27045"/>
<rect x="485.00" y="33.48" width="6.90" height="0.80" fill="#d37146"/>
<rect x="485.00" y="33.97" width="6.90" height="0.80" fill="#d37246"/>
<rect x="485.00" y="34.47" width="6.90" height="0.80" fill="#d37247"/>
<rect x="485.00" y="34.97" width="6.90" height="0.80" fill="#d37347"/>
<rect x="485.00" y="35.47" width="6.90" height="0.80" fill="#d47448"/>
<rect x="485.00" y="35.97" width="6.90" height="0.80" fill="#d47549"/>
<rect x="485.00" y="36.47" width="6.90" height="0.80" fill="#d47649"/>
<rect x="485.00" y="36.97" width="6.90" height="0.80" fill="#d4774a"/>
<rect x="485.00" y="37.47" width="6.90" height="0.80" fill="#d5784b"/>
<rect x="485.00" y="37.97" width="6.90" height="0.80" fill="#d5794b"/>
<rect x="485.00" y="38.47" width="6.90" height="0.80" fill="#d57a4c"/>
<rect x="485.00" y="38.97" width="6.90" height="0.80" fill="#d67b4c"/>
<rect x="485.00" y="39.47" width="6.90" height="0.80" fill="#d67c4d"/>
<rect x="485.00" y="39.97" width="6.90" height="0.80" fill="#d67d4e"/>
<rect x="485.00" y="40.47" width="6.90" height="0.80" fill="#d67e4e"/>
<rect x="485.00" y="40.97" width="6.90" height="0.80" fill="#d77f4f"/>
<rect x="485.00" y="41.47" width="6.90" height="0.80" fill="#d7804f"/>
<rect x="485.00" y="41.97" width="6.90" height="0.80" fill="#d78150"/>
<rect x="485.00" y="42.47" width="6.90" height="0.80" fill="#d78251"/>
<rect x="485.00" y="42.97" width="6.90" height="0.80" fill="#d88351"/>
<rect x="485.00" y="43.47" width="6.90" height="0.80" fill="#d88452"/>
<rect x="485.00" y="43.97" width="6.90" height="0.80" fill="#d98553"/>
<rect x="485.00" y="44.46" width="6.90" height="0.80" fill="#d98754"/>
<rect x="485.00" y="44.96" width="6.90" height="0.80" fill="#da8955"/>
<rect x="485.00" y="45.46" width="6.90" height="0.80" fill="#db8a56"/>
<rect x="485.00" y="45.96" width="6.90" height="0.80" fill="#db8c57"/>
<rect x="485.00" y="46.46" width="6.90" height="0.80" fill="#dc8e58"/>
<rect x="485.00" y="46.96" width="6.90" height="0.80" fill="#dd8f59"/>
<rect x="485.00" y="47.46" width="6.90" height="0.80" fill="#de915a"/>
<rect x="485.00" y="47.96" width="6.90" height="0.80" fill="#de935c"/>
<rect x="485.00" y="48.46" width="6.90" height="0.80" fill="#df945d"/>
<rect x="485.00" y="48.96" width="6.90" height="0.80" fill="#e0965e"/>
<rect x="485.00" y="49.46" width="6.90" height="0.80" fill="#e1985f"/>
<rect x="485.00" y="49.96" width="6.90" height="0.80" fill="#e19960"/>
<rect x="485.00" y="50.46" width="6.90" height="0.80" fill="#e29b61"/>
<rect x="485.00" y="50.96" width="6.90" height="0.80" fill="#e39d62"/>
<rect x="485.00" y="51.46" width="6.90" height="0.80" fill="#e39e63"/>
<rect x="485.00" y="51.96" width="6.90" height="0.80" fill="#e4a064"/>
<rect x="485.00" y="52.46" width="6.90" height="0.80" fill="#e5a165"/>
<rect x="485.00" y="52.96" width="6.90" height="0.80" fill="#e6a366"/>
<rect x="485.00" y="53.46" width="6.90" height="0.80" fill="#e6a567"/>
<rect x="485.00" y="53.96" width="6.90" height="0.80" fill="#e7a668"/>
<rect x="485.00" y="54.46" width="6.90" height="0.80" fill="#e8a86a"/>
<rect x="485.00" y="54.95" width="6.90" height="0.80" fill="#e8aa6b"/>
<rect x="485.00" y="55.45" width="6.90" height="0.80" fill="#e9ab6c"/>
<rect x="485.00" y="55.95" width="6.90" height="0.80" fill="#eaad6d"/>
<rect x="485.00" y="56.45" width="6.90" height="0.80" fill="#ebaf6e"/>
<rect x="485.00" y="56.95" width="6.90" height="0.80" fill="#ebb06f"/>
<rect x="485.00" y="57.45" width="6.90" height="0.80" fill="#ecb270"/>
<rect x="485.00" y="57.95" width="6.90" height="0.80" fill="#edb471"/>
<rect x="485.00" y="58.45" width="6.90" height="0.80" fill="#edb673"/>
<rect x="485.00" y="58.95" width="6.90" height="0.80" fill="#eeb974"/>
<rect x="485.00" y="59.45" width="6.90" height="0.80" fill="#efbb76"/>
<rect x="485.00" y="59.95" width="6.90" height="0.80" fill="#efbd77"/>
<rect x="485.00" y="60.45" width="6.90" height="0.80" fill="#f0bf79"/>
<rect x="485.00" y="60.95" width="6.90" height="0.80" fill="#f1c27a"/>
<rect x="485.00" y="61.45" width="6.90" height="0.80" fill="#f1c47c"/>
<rect x="485.00" y="61.95" width="6.90" height="0.80" fill="#f2c67d"/>
<rect x="485.00" y="62.45" width="6.90" height="0.80" fill="#f3c87f"/>
<rect x="485.00" y="62.95" width="6.90" height="0.80" fill="#f3cb80"/>
<rect x="485.00" y="63.45" width="6.90" height="0.80" fill="#f4cd81"/>
<rect x="485.00" y="63.95" width="6.90" height="0.80" fill="#f5cf83"/>
<rect x="485.00" y="64.45" width="6.90" height="0.80" fill="#f6d184"/>
<rect x="485.00" y="64.95" width="6.90" height="0.80" fill="#f6d386"/>
<rect x="485.00" y="65.44" width="6.90" height="0.80" fill="#f7d687"/>
<rect x="485.00" y="65.94" width="6.90" height="0.80" fill="#f8d889"/>
<rect x="485.00" y="66.44" width="6.90" height="0.80" fill="#f8da8a"/>
<rect x="485.00" y="66.94" width="6.90" height="0.80" fill="#f9dc8c"/>
<rect x="485.00" y="67.44" width="6.90" height="0.80" fill="#fadf8d"/>
<rect x="485.00" y="67.94" width="6.90" height="0.80" fill="#fae08e"/>
<rect x="485.00" y="68.44" width="6.90" height="0.80" fill="#fae18f"/>
<rect x="485.00" y="68.94" width="6.90" height="0.80" fill="#fae190"/>
<rect x="485.00" y="69.44" width="6.90" height="0.80" fill="#fae291"/>
<rect x="485.00" y="69.94" width="6.90" height="0.80" fill="#fbe392"/>
<rect x="485.00" y="70.44" width="6.90" height="0.80" fill="#fbe393"/>
<rect x="485.00" y="70.94" width="6.90" height="0.80" fill="#fbe494"/>
<rect x="485.00" y="71.44" width="6.90" height="0.80" fill="#fbe495"/>
<rect x="485.00" y="71.94" width="6.90" height="0.80" fill="#fbe596"/>
<rect x="485.00" y="72.44" width="6.90" height="0.80" fill="#fbe697"/>
<rect x="485.00" y="72.94" width="6.90" height="0.80" fill="#fbe698"/>
<rect x="485.00" y="73.44" width="6.90" height="0.80" fill="#fbe799"/>
<rect x="485.00" y="73.94" width="6.90" height="0.80" fill="#fce79a"/>
<rect x="485.00" y="74.44" width="6.90" height="0.80" fill="#fce89b"/>
<rect x="485.00" y="74.94" width="6.90" height="0.80" fill="#fce99c"/>
<rect x="485.00" y="75.44" width="6.90" height="0.80" fill="#fce99d"/>
<rect x="485.00" y="75.93" width="6.90" height="0.80" fill="#fcea9e"/>
<rect x="485.00" y="76.43" width="6.90" height="0.80" fill="#fcea9f"/>
<rect x="485.00" y="76.93" width="6.90" height="0.80" fill="#fceba0"/>
<rect x="485.00" y="77.43" width="6.90" height="0.80" fill="#fceba1"/>
<rect x="485.00" y="77.93" width="6.90" height="0.80" fill="#fdeca2"/>
<rect x="485.00" y="78.43" width="6.90" height="0.80" fill="#fdeda3"/>
<rect x="485.00" y="78.93" width="6.90" height="0.80" fill="#fdeda4"/>
<rect x="485.00" y="79.43" width="6.90" height="0.80" fill="#fdeea5"/>
<rect x="485.00" y="79.93" width="6.90" height="0.80" fill="#fdeea6"/>
<rect x="485.00" y="80.43" width="6.90" height="0.80" fill="#fdefa8"/>
<rect x="485.00" y="80.93" width="6.90" height="0.80" fill="#fdf0a9"/>
<rect x="485.00" y="81.43" width="6.90" height="0.80" fill="#fdf0ab"/>
<rect x="485.00" y="81.93" width="6.90" height="0.80" fill="#fdf1ac"/>
<rect x="485.00" y="82.43" width="6.90" height="0.80" fill="#fdf1ae"/>
<rect x="485.00" y="82.93" width="6.90" height="0.80" fill="#fdf2af"/>
<rect x="485.00" y="83.43" width="6.90" height="0.80" fill="#fdf3b1"/>
<rect x="485.00" y="83.93" width="6.90" height="0.80" fill="#fdf3b2"/>
<rect x="485.00" y="84.43" width="6.90" height="0.80" fill="#fdf4b4"/>
<rect x="485.00" y="84.93" width="6.90" height="0.80" fill="#fdf4b5"/>
<rect x="485.00" y="85.43" width="6.90" height="0.80" fill="#fdf5b6"/>
<rect x="485.00" y="85.93" width="6.90" height="0.80" fill="#fdf6b8"/>
<rect x="485.00" y="86.43" width="6.90" height="0.80" fill="#fdf6b9"/>
<rect x="485.00" y="86.92" width="6.90" height="0.80" fill="#fdf7bb"/>
<rect x="485.00" y="87.42" width="6.90" height="0.80" fill="#fdf7bc"/>
<rect x="485.00" y="87.92" width="6.90" height="0.80" fill="#fdf8be"/>
<rect x="485.00" y="88.42" width="6.90" height="0.80" fill="#fcf8c0"/>
<rect x="485.00" y="88.92" width="6.90" height="0.80" fill="#fbf7c3"/>
<rect x="485.00" y="89.42" width="6.90" height="0.80" fill="#faf7c5"/>
<rect x="485.00" y="89.92" width="6.90" height="0.80" fill="#f8f7c8"/>
<rect x="485.00" y="90.42" width="6.90" height="0.80" fill="#f7f6ca"/>
<rect x="485.00" y="90.92" width="6.90" height="0.80" fill="#f6f6cd"/>
<rect x="485.00" y="91.42" width="6.90" height="0.80" fill="#f5f6cf"/>
<rect x="485.00" y="91.92" width="6.90" height="0.80" fill="#f4f5d2"/>
<rect x="485.00" y="92.42" width="6.90" height="0.80" fill="#f3f5d4"/>
<rect x="485.00" y="92.92" width="6.90" height="0.80" fill="#f2f5d6"/>
<rect x="485.00" y="93.42" width="6.90" height="0.80" fill="#f1f5d8"/>
<rect x="485.00" y="93.92" width="6.90" height="0.80" fill="#f0f4da"/>
<rect x="485.00" y="94.42" width="6.90" height="0.80" fill="#eff4dc"/>
<rect x="485.00" y="94.92" width="6.90" height="0.80" fill="#eef4dd"/>
<rect x="485.00" y="95.42" width="6.90" height="0.80" fill="#edf4df"/>
<rect x="485.00" y="95.92" width="6.90" height="0.80" fill="#ecf3e1"/>
<rect x="485.00" y="96.42" width="6.90" height="0.80" fill="#ebf3e3"/>
<rect x="485.00" y="96.92" width="6.90" height="0.80" fill="#eaf3e5"/>
<rect x="485.00" y="97.41" width="6.90" height="0.80" fill="#e9f2e7"/>
<rect x="485.00" y="97.91" width="6.90" height="0.80" fill="#e8f2e9"/>
<rect x="485.00" y="98.41" width="6.90" height="0.80" fill="#e7f2eb"/>
<rect x="485.00" y="98.91" width="6.90" height="0.80" fill="#e6f1ed"/>
<rect x="485.00" y="99.41" width="6.90" height="0.80" fill="#e5f1ef"/>
<rect x="485.00" y="99.91" width="6.90" height="0.80" fill="#e3f1f2"/>
<rect x="485.00" y="100.41" width="6.90" height="0.80" fill="#e2f0f4"/>
<rect x="485.00" y="100.91" width="6.90" height="0.80" fill="#e0eff6"/>
<rect x="485.00" y="101.41" width="6.90" height="0.80" fill="#dcedf4"/>
<rect x="485.00" y="101.91" width="6.90" height="0.80" fill="#d8ebf3"/>
<rect x="485.00" y="102.41" width="6.90" height="0.80" fill="#d4e8f2"/>
<rect x="485.00" y="102.91" width="6.90" height="0.80" fill="#cfe6f1"/>
<rect x="485.00" y="103.41" width="6.90" height="0.80" fill="#cae3ef"/>
<rect x="485.00" y="103.91" width="6.90" height="0.80" fill="#c5e0ed"/>
<rect x="485.00" y="104.41" width="6.90" height="0.80" fill="#bfddec"/>
<rect x="485.00" y="104.91" width="6.90" height="0.80" fill="#badaea"/>
<rect x="485.00" y="105.41" width="6.90" height="0.80" fill="#b5d6e8"/>
<rect x="485.00" y="105.91" width="6.90" height="0.80" fill="#afd3e6"/>
<rect x="485.00" y="106.41" width="6.90" height="0.80" fill="#a9cfe4"/>
<rect x="485.00" y="106.91" width="6.90" height="0.80" fill="#a3cbe2"/>
<rect x="485.00" y="107.41" width="6.90" height="0.80" fill="#9dc7e0"/>
<rect x="485.00" y="107.90" width="6.90" height="0.80" fill="#97c3dd"/>
<rect x="485.00" y="108.40" width="6.90" height="0.80" fill="#91bfdb"/>
<rect x="485.00" y="108.90" width="6.90" height="0.80" fill="#8ab8d8"/>
<rect x="485.00" y="109.40" width="6.90" height="0.80" fill="#82b0d4"/>
<rect x="485.00" y="109.90" width="6.90" height="0.80" fill="#7aa9cf"/>
<rect x="485.00" y="110.40" width="6.90" height="0.80" fill="#72a1cb"/>
<rect x="485.00" y="110.90" width="6.90" height="0.80" fill="#6493c4"/>
<rect x="485.00" y="111.40" width="6.90" height="0.80" fill="#5484bc"/>
<rect x="485.00" y="111.90" width="6.90" height="0.80" fill="#3e6eb1"/>
<rect x="485.00" y="112.40" width="6.90" height="0.80" fill="#3e6eb1"/>
</g>
<g stroke="#999999" stroke-width="0.5">
<rect x="484.6" y="285.2" width="10.3" height="10.3" fill="#aa0028"/>
<rect x="484.6" y="295.5" width="10.3" height="10.3" fill="#284b87"/>
</g>
<path d="M0 0H520V334H0Z M1 1H518.9V332H1Z" fill="#000" fill-rule="evenodd"/>
</svg>
</body></html>
